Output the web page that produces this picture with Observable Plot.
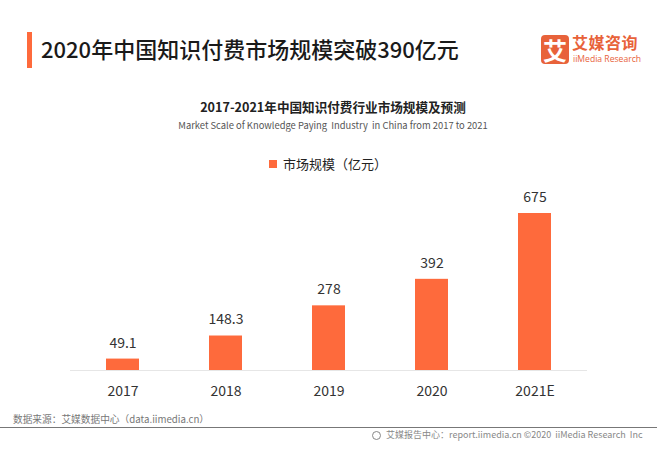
<!DOCTYPE html>
<html>
<head>
<meta charset="utf-8">
<script src="https://cdn.jsdelivr.net/npm/d3@7"></script>
<script src="https://cdn.jsdelivr.net/npm/@observablehq/plot@0.6"></script>
<style>
  html, body { margin: 0; padding: 0; background: #fff; }
  body { width: 666px; height: 456px; overflow: hidden; position: relative; font-family: "Noto Sans CJK SC", "Noto Sans", sans-serif; }
  .abs { position: absolute; white-space: pre; }
  #chart { position: absolute; left: 0; top: 170px; }
</style>
</head>
<body>
<div class="abs" style="left:27px;top:32px;width:5px;height:36px;background:#fe6a3c;"></div>
<div class="abs" style="left:41px;top:34px;font-size:22px;font-weight:500;color:#1a1a1a;line-height:28px;">2020年中国知识付费市场规模突破390亿元</div>
<div class="abs" style="left:541px;top:35px;width:28px;height:29px;background:#e8623a;border-radius:4px;color:#fff;font-size:24px;font-weight:700;line-height:29px;text-align:center;">艾</div>
<div class="abs" style="left:572px;top:33px;font-size:16px;font-weight:700;color:#e8623a;line-height:18px;letter-spacing:0.5px;">艾媒咨询</div>
<div class="abs" style="left:573px;top:54px;font-size:8.6px;color:#e8623a;line-height:10px;font-family:'Open Sans','Noto Sans',sans-serif;">iiMedia Research</div>

<div class="abs" style="left:0;width:666px;text-align:center;top:98px;font-size:12.6px;font-weight:700;color:#222;line-height:18px;">2017-2021年中国知识付费行业市场规模及预测</div>
<div class="abs" style="left:0;width:666px;text-align:center;top:118px;font-size:9.4px;color:#555;line-height:14px;">Market Scale of Knowledge Paying  Industry  in China from 2017 to 2021</div>
<div class="abs" style="left:269px;top:160px;width:8px;height:8px;background:#fe6a3c;"></div>
<div class="abs" style="left:283px;top:155px;font-size:13px;color:#222;line-height:18px;">市场规模（亿元）</div>

<div id="chart"></div>

<div class="abs" style="left:13px;top:412px;font-size:9.7px;color:#777;line-height:14px;">数据来源：艾媒数据中心（data.iimedia.cn）</div>
<div class="abs" style="left:0;top:427px;width:657px;height:1px;background:#777;"></div>
<div class="abs" style="left:372px;top:431px;width:9px;height:9px;border-radius:50%;border:1.5px solid #888;box-sizing:border-box;"></div>
<div class="abs" style="left:386px;top:428px;font-size:9px;color:#888;line-height:14px;">艾媒报告中心：report.iimedia.cn ©2020  iiMedia Research  Inc</div>

<script>
const years = ["2017", "2018", "2019", "2020", "2021E"];
const values = [49.1, 148.3, 278, 392, 675];
const labels = ["49.1", "148.3", "278", "392", "675"];

const data = years.map((y, i) => ({year: y, value: values[i], label: labels[i]}));

const chart = Plot.plot({
  width: 666,
  height: 240,
  marginLeft: 70,
  marginRight: 79,
  marginTop: 43,
  marginBottom: 40,
  style: {fontFamily: "'Noto Sans CJK SC', 'Noto Sans', sans-serif", background: "transparent"},
  x: {domain: years, paddingInner: 0.681, paddingOuter: 0.338, label: null},
  y: {domain: [0, 675], axis: null},
  marks: [
    Plot.barY(data, {x: "year", y: "value", fill: "#fe6a3c"}),
    Plot.ruleY([0], {stroke: "#e6e6e6", strokeWidth: 1}),
    Plot.text(data, {x: "year", y: "value", text: "label", dy: -16, fontSize: 14, fill: "#333"}),
    Plot.axisX({tickSize: 0, tickPadding: 16, fontSize: 14, color: "#333", label: null})
  ]
});
document.getElementById("chart").appendChild(chart);
</script>
</body>
</html>
